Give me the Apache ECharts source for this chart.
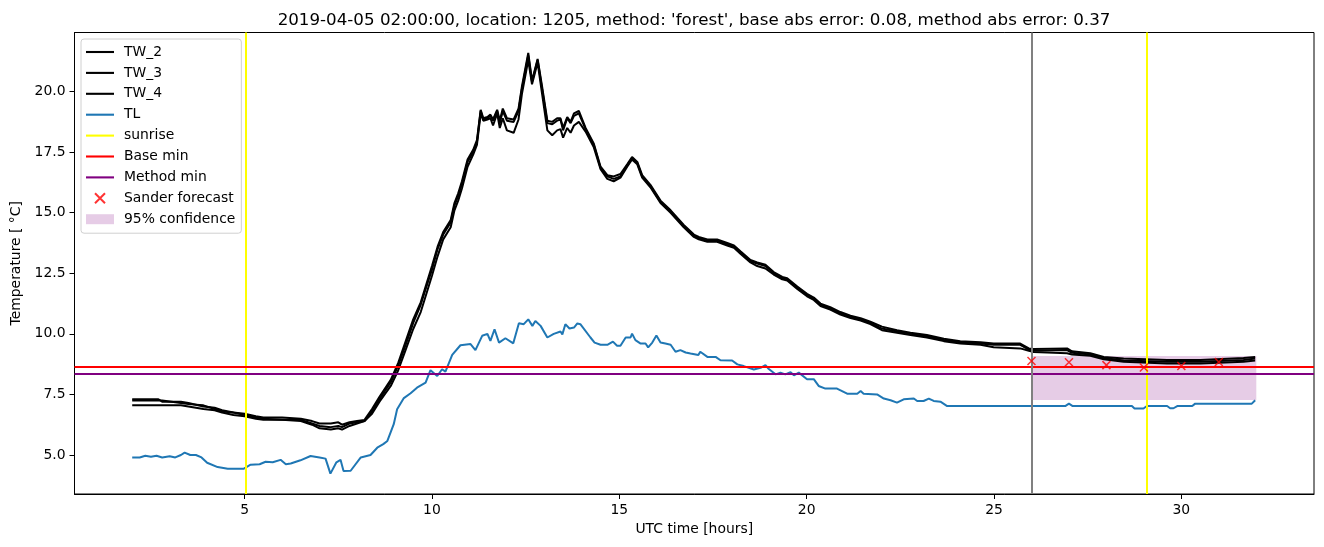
<!DOCTYPE html>
<html>
<head>
<meta charset="utf-8">
<script src="https://cdn.jsdelivr.net/npm/echarts@6/dist/echarts.min.js"></script>
<style>
html,body{margin:0;padding:0;background:#fff;}
#chart{width:1324px;height:547px;}
</style>
</head>
<body>
<div id="chart"></div>
<script>
const titleText = "2019-04-05 02:00:00, location: 1205, method: 'forest', base abs error: 0.08, method abs error: 0.37";
const xTicks = [5, 10, 15, 20, 25, 30];
const yTicks = [5.0, 7.5, 10.0, 12.5, 15.0, 17.5, 20.0];

const hoursTW = [2.0,2.7,2.8,3.3,3.5,3.9,4.2,4.4,4.7,5.0,
 5.3,5.5,6.0,6.5,6.8,7.0,7.3,7.5,7.6,7.8,
 8.0,8.2,8.4,8.6,8.9,9.1,9.3,9.5,9.7,9.8,
 10.0,10.15,10.3,10.5,10.6,10.7,10.8,10.95,11.1,11.2,
 11.3,11.37,11.48,11.56,11.63,11.74,11.81,11.89,12.0,12.18,
 12.31,12.4,12.57,12.67,12.82,12.94,13.08,13.21,13.34,13.43,
 13.5,13.61,13.7,13.79,13.92,14.1,14.32,14.5,14.68,14.85,
 15.03,15.21,15.34,15.48,15.61,15.83,16.1,16.37,16.72,16.99,
 17.12,17.35,17.61,17.88,18.06,18.24,18.5,18.68,18.9,19.12,
 19.35,19.48,19.75,20.01,20.19,20.37,20.63,20.9,21.17,21.44,
 21.7,22.01,22.41,22.77,23.21,23.66,24.1,24.64,24.99,25.7,
 25.93,26.06,26.95,27.08,27.57,27.93,28.46,29.62,30.51,31.66,
 31.97];
const tw2 = [7.3,7.3,7.2,7.2,7.15,7.0,6.95,6.85,6.75,6.7,
 6.6,6.55,6.55,6.5,6.4,6.3,6.3,6.35,6.25,6.35,
 6.4,6.45,6.9,7.4,8.1,8.8,9.7,10.6,11.3,11.8,
 12.8,13.6,14.2,14.7,15.4,15.8,16.3,17.2,17.6,18.0,
 19.25,18.9,18.95,19.05,18.85,19.25,18.8,19.3,18.9,18.85,
 19.3,20.2,21.6,20.45,21.35,20.2,18.8,18.75,18.9,18.9,
 18.5,18.95,18.75,19.1,19.2,18.5,17.85,16.9,16.55,16.5,
 16.6,17.0,17.3,17.1,16.55,16.15,15.5,15.1,14.5,14.1,
 14.0,13.9,13.9,13.75,13.65,13.4,13.05,12.95,12.85,12.55,
 12.35,12.3,11.95,11.65,11.5,11.25,11.1,10.9,10.75,10.65,
 10.5,10.3,10.15,10.05,9.95,9.8,9.7,9.65,9.6,9.6,
 9.4,9.38,9.4,9.28,9.2,9.05,8.98,8.92,8.92,9.0,
 9.05];
const tw3 = [7.25,7.25,7.25,7.15,7.1,7.05,6.9,6.8,6.75,6.65,
 6.55,6.5,6.45,6.45,6.3,6.2,6.15,6.2,6.15,6.3,
 6.35,6.4,6.8,7.3,8.0,8.7,9.55,10.45,11.2,11.7,
 12.65,13.5,14.1,14.6,15.3,15.7,16.2,17.1,17.5,17.9,
 19.2,18.85,18.9,19.0,18.8,19.2,18.7,19.2,18.8,18.75,
 19.2,20.1,21.5,20.4,21.3,20.1,18.7,18.65,18.8,18.85,
 18.4,18.9,18.7,19.0,19.1,18.45,17.8,16.85,16.5,16.4,
 16.5,16.95,17.25,17.05,16.5,16.1,15.45,15.05,14.45,14.05,
 13.95,13.85,13.85,13.7,13.6,13.35,13.0,12.9,12.8,12.5,
 12.3,12.25,11.9,11.6,11.45,11.2,11.05,10.85,10.7,10.6,
 10.45,10.22,10.1,10.0,9.9,9.75,9.65,9.6,9.55,9.55,
 9.35,9.3,9.33,9.22,9.15,9.0,8.9,8.85,8.85,8.92,
 8.98];
const tw4 = [7.05,7.05,7.05,7.05,7.0,6.9,6.85,6.75,6.65,6.6,
 6.5,6.45,6.45,6.4,6.25,6.1,6.05,6.1,6.05,6.2,
 6.3,6.4,6.7,7.2,7.85,8.5,9.35,10.2,10.9,11.4,
 12.4,13.2,13.9,14.4,15.1,15.5,16.0,16.9,17.4,17.8,
 19.1,18.8,18.85,18.9,18.6,19.1,18.5,18.9,18.4,18.3,
 18.85,19.9,21.3,20.3,21.2,19.9,18.4,18.2,18.4,18.45,
 18.1,18.5,18.3,18.6,18.75,18.35,17.7,16.8,16.4,16.3,
 16.45,16.9,17.2,17.0,16.45,16.05,15.4,15.0,14.4,14.0,
 13.9,13.8,13.8,13.65,13.55,13.3,12.95,12.8,12.7,12.45,
 12.25,12.2,11.85,11.55,11.4,11.15,11.0,10.8,10.65,10.55,
 10.4,10.15,10.05,9.95,9.85,9.7,9.6,9.55,9.45,9.4,
 9.3,9.25,9.2,9.15,9.1,8.95,8.85,8.78,8.78,8.85,
 8.9];

const hoursTL = [2.0,2.2,2.35,2.5,2.65,2.8,3.0,3.15,3.3,3.4,
 3.55,3.7,3.85,4.0,4.28,4.55,4.97,5.16,5.4,5.56,
 5.75,5.96,6.1,6.23,6.49,6.76,7.0,7.16,7.29,7.45,
 7.56,7.64,7.83,8.1,8.36,8.54,8.7,8.81,8.98,9.07,
 9.25,9.43,9.6,9.83,9.96,10.14,10.27,10.36,10.54,10.76,
 11.03,11.16,11.34,11.48,11.56,11.67,11.79,11.96,12.17,12.32,
 12.45,12.57,12.68,12.76,12.9,13.08,13.25,13.43,13.48,13.56,
 13.67,13.79,13.88,13.96,14.23,14.34,14.5,14.68,14.83,14.94,
 15.03,15.17,15.3,15.34,15.43,15.57,15.7,15.77,15.88,15.99,
 16.1,16.23,16.37,16.5,16.63,16.77,16.9,17.11,17.16,17.35,
 17.57,17.7,18.01,18.15,18.32,18.59,18.77,18.9,18.99,19.17,
 19.3,19.43,19.57,19.66,19.79,20.01,20.19,20.32,20.5,20.81,
 21.08,21.35,21.44,21.52,21.88,22.06,22.24,22.41,22.59,22.86,
 22.95,23.12,23.26,23.39,23.57,23.75,26.9,27.0,27.1,28.68,
 28.75,28.99,29.08,29.62,29.7,29.79,29.89,30.29,30.37,31.88,
 31.97];
const tl = [4.9,4.9,4.97,4.93,4.97,4.9,4.95,4.9,5.0,5.1,
 5.0,5.0,4.9,4.68,4.5,4.43,4.43,4.6,4.62,4.72,
 4.7,4.8,4.62,4.65,4.78,4.96,4.9,4.85,4.23,4.7,
 4.8,4.34,4.35,4.9,5.0,5.3,5.45,5.58,6.27,6.89,
 7.35,7.55,7.78,7.99,8.5,8.26,8.54,8.44,9.13,9.53,
 9.58,9.33,9.92,10.0,9.71,10.19,9.64,9.82,9.61,10.44,
 10.4,10.6,10.33,10.53,10.33,9.85,10.0,10.1,9.98,10.4,
 10.22,10.26,10.43,10.4,9.85,9.64,9.55,9.55,9.68,9.51,
 9.51,9.85,9.85,10.01,9.74,9.6,9.6,9.44,9.64,9.93,
 9.64,9.6,9.55,9.26,9.33,9.23,9.19,9.13,9.26,9.05,
 9.05,8.91,8.9,8.74,8.67,8.53,8.6,8.71,8.55,8.33,
 8.4,8.33,8.42,8.29,8.4,8.13,8.13,7.85,7.74,7.74,
 7.53,7.53,7.64,7.53,7.5,7.33,7.26,7.16,7.3,7.33,
 7.23,7.23,7.33,7.23,7.2,7.02,7.02,7.12,7.02,7.02,
 6.92,6.92,7.02,7.02,6.93,6.93,7.02,7.02,7.12,7.12,
 7.26];

const sunriseHours = [5.03, 29.07];
const baseMin = 8.64;
const methodMin = 8.36;
const nowHour = 26.0;
const forecastHours = [26, 27, 28, 29, 30, 31];
const forecastValues = [8.88, 8.83, 8.71, 8.61, 8.67, 8.84];
const confidenceLow = 7.27;
const confidenceHigh = 9.09;
const confidenceStart = 26.0;
const confidenceEnd = 32.0;

const zip = (xs, ys) => xs.map((x, i) => [x, ys[i]]);
const FONT = 'DejaVu Sans';
const xPath = 'path://M0,0 L10,10 M10,0 L0,10';
const lineIcon = 'path://M0,0 L28,0 L28,2.1 L0,2.1 Z';

const chart = echarts.init(document.getElementById('chart'), null, {renderer: 'canvas'});
const lineBase = {type: 'line', symbol: 'none', showSymbol: false, animation: false, silent: true};

chart.setOption({
  animation: false,
  backgroundColor: '#ffffff',
  textStyle: {fontFamily: FONT},
  title: {
    text: titleText, left: 689, top: 7, textAlign: 'center',
    textStyle: {fontFamily: FONT, fontSize: 16.7, fontWeight: 'normal', color: '#000'}
  },
  grid: {left: 74.5, right: 10, top: 32.5, bottom: 53, show: true, borderColor: '#000', borderWidth: 1, backgroundColor: 'transparent'},
  legend: {
    orient: 'vertical', left: 81, top: 39,
    padding: [6, 6, 7, 5], itemGap: 6.9, itemWidth: 28, itemHeight: 10,
    symbolKeepAspect: true,
    borderColor: '#d0d0d0', borderWidth: 1, borderRadius: 3, backgroundColor: 'rgba(255,255,255,0.8)',
    textStyle: {fontFamily: FONT, fontSize: 13.9, color: '#000', padding: [0, 0, 0, 5]},
    data: [
      {name: 'TW_2', icon: lineIcon}, {name: 'TW_3', icon: lineIcon}, {name: 'TW_4', icon: lineIcon}, {name: 'TL', icon: lineIcon},
      {name: 'sunrise', icon: lineIcon}, {name: 'Base min', icon: lineIcon}, {name: 'Method min', icon: lineIcon},
      {name: 'Sander forecast', icon: xPath},
      {name: '95% confidence', icon: 'rect'}
    ],
    selectedMode: false
  },
  xAxis: {
    type: 'value', min: 0.46, max: 33.54,
    axisLine: {show: true, onZero: false, lineStyle: {color: '#000', width: 1}},
    axisTick: {show: true, length: 5, customValues: xTicks, lineStyle: {color: '#000'}},
    axisLabel: {customValues: xTicks, margin: 9, fontFamily: FONT, fontSize: 13.9, color: '#000', formatter: v => String(v)},
    splitLine: {show: false},
    name: 'UTC time [hours]', nameLocation: 'middle', nameGap: 28,
    nameTextStyle: {fontFamily: FONT, fontSize: 13.9, color: '#000'}
  },
  yAxis: {
    type: 'value', min: 3.39, max: 22.44,
    axisLine: {show: true, onZero: false, lineStyle: {color: '#000', width: 1}},
    axisTick: {show: true, length: 5, customValues: yTicks, lineStyle: {color: '#000'}},
    axisLabel: {customValues: yTicks, margin: 9, fontFamily: FONT, fontSize: 13.9, color: '#000', formatter: v => v.toFixed(1)},
    splitLine: {show: false},
    name: 'Temperature [ °C]', nameLocation: 'middle', nameGap: 47,
    nameTextStyle: {fontFamily: FONT, fontSize: 13.9, color: '#000'}
  },
  series: [
    Object.assign({}, lineBase, {
      name: '95% confidence', data: [], z: 1,
      itemStyle: {color: 'rgba(128,0,128,0.2)'},
      lineStyle: {width: 0},
      markArea: {silent: true, itemStyle: {color: 'rgba(128,0,128,0.2)'},
        data: [[{xAxis: confidenceStart, yAxis: confidenceLow}, {xAxis: confidenceEnd, yAxis: confidenceHigh}]]}
    }),
    Object.assign({}, lineBase, {name: 'TW_2', data: zip(hoursTW, tw2), color: '#000', lineStyle: {width: 2, color: '#000'}, z: 3}),
    Object.assign({}, lineBase, {name: 'TW_3', data: zip(hoursTW, tw3), color: '#000', lineStyle: {width: 2, color: '#000'}, z: 3}),
    Object.assign({}, lineBase, {name: 'TW_4', data: zip(hoursTW, tw4), color: '#000', lineStyle: {width: 2, color: '#000'}, z: 3}),
    Object.assign({}, lineBase, {name: 'TL', data: zip(hoursTL, tl), color: '#1f77b4', lineStyle: {width: 2, color: '#1f77b4'}, z: 3}),
    Object.assign({}, lineBase, {
      name: 'sunrise', data: [], color: '#ffff00', lineStyle: {width: 2, color: '#ffff00'}, z: 4,
      markLine: {silent: true, symbol: 'none', label: {show: false}, lineStyle: {color: '#ffff00', width: 2, type: 'solid'},
        data: sunriseHours.map(h => ({xAxis: h}))}
    }),
    Object.assign({}, lineBase, {
      name: 'Base min', data: [], color: '#ff0000', lineStyle: {width: 2, color: '#ff0000'}, z: 4,
      markLine: {silent: true, symbol: 'none', label: {show: false}, lineStyle: {color: '#ff0000', width: 2, type: 'solid'},
        data: [{yAxis: baseMin}]}
    }),
    Object.assign({}, lineBase, {
      name: 'Method min', data: [], color: '#800080', lineStyle: {width: 2, color: '#800080'}, z: 4,
      markLine: {silent: true, symbol: 'none', label: {show: false}, lineStyle: {color: '#800080', width: 2, type: 'solid'},
        data: [{yAxis: methodMin}]}
    }),
    {
      name: 'Sander forecast', type: 'scatter', symbol: xPath, symbolSize: 8,
      data: zip(forecastHours, forecastValues), animation: false, silent: true, z: 5,
      itemStyle: {color: '#ff0000', borderColor: '#ff0000', borderWidth: 1.5}
    },
    Object.assign({}, lineBase, {
      name: 'now', data: [], color: '#808080', z: 4,
      markLine: {silent: true, symbol: 'none', label: {show: false}, lineStyle: {color: '#808080', width: 2, type: 'solid'},
        data: [{xAxis: nowHour}]}
    })
  ]
});
</script>
</body>
</html>
